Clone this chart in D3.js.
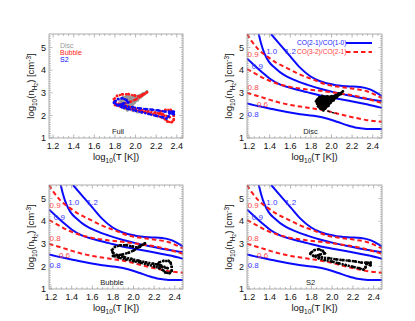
<!DOCTYPE html>
<html><head><meta charset="utf-8">
<script src="https://cdn.jsdelivr.net/npm/d3@7"></script>
<style>body{margin:0;background:#fff}svg{display:block}text{font-family:"Liberation Sans",Arial,Helvetica,sans-serif}</style>
</head><body><svg id="c" width="415" height="321"></svg>
<script>
// ---------- data ----------
const xTicks = [1.2, 1.4, 1.6, 1.8, 2.0, 2.2, 2.4];
const yTicks = [1, 2, 3, 4, 5];
const panelNames = ["Full", "Disc", "Bubble", "S2"];
const legendFull = ["Disc", "Bubble", "S2"];
const legendRatio = ["CO(2-1)/CO(1-0)", "CO(3-2)/CO(2-1)"];

// CO(2-1)/CO(1-0) contours (solid blue): [log T, log n]
const blue12 = [[1.413,5.6],[1.503,5.12],[1.60,4.61],[1.697,4.10],[1.794,3.73],[1.89,3.51],[2.019,3.36],[2.148,3.29],[2.277,3.26],[2.374,3.15],[2.439,3.0],[2.49,2.85]];
const blue10 = [[1.294,5.6],[1.316,5.19],[1.348,4.75],[1.39,4.39],[1.455,4.09],[1.535,3.80],[1.632,3.58],[1.761,3.36],[1.89,3.18],[2.019,3.03],[2.148,2.90],[2.277,2.78],[2.49,2.62]];
const blue09 = [[1.18,4.52],[1.245,4.24],[1.326,3.91],[1.406,3.61],[1.503,3.36],[1.632,3.18],[1.761,3.03],[1.89,2.88],[2.019,2.77],[2.181,2.64],[2.342,2.49],[2.49,2.33]];
const blue08 = [[1.18,2.53],[1.31,2.39],[1.439,2.27],[1.568,2.15],[1.697,2.05],[1.826,1.98],[1.955,1.86],[2.052,1.72],[2.148,1.57],[2.245,1.45],[2.342,1.40],[2.49,1.40]];
// CO(3-2)/CO(2-1) contours (dashed red)
const red09 = [[1.18,5.6],[1.229,5.26],[1.294,4.90],[1.374,4.61],[1.471,4.31],[1.568,4.09],[1.697,3.80],[1.826,3.58],[1.955,3.36],[2.084,3.26],[2.213,3.18],[2.342,3.07],[2.49,2.76]];
const red08 = [[1.18,4.05],[1.261,3.85],[1.358,3.61],[1.471,3.41],[1.60,3.26],[1.761,3.15],[1.923,3.07],[2.084,2.97],[2.245,2.85],[2.49,2.54]];
const red06 = [[1.18,3.0],[1.31,2.82],[1.439,2.64],[1.568,2.49],[1.697,2.39],[1.826,2.30],[1.955,2.20],[2.084,2.05],[2.213,1.91],[2.342,1.79],[2.49,1.72]];

const blueLevels = ["0.8", "0.9", "1.0", "1.2"];
const redLevels = ["0.6", "0.8", "0.9"];
// contour label anchors [log T, log n]
const blueLabelPos = [[1.24,2.08],[1.28,4.20],[1.42,4.86],[1.60,4.86]];
const redLabelPos = [[1.33,2.50],[1.24,3.26],[1.24,4.72]];

// gas phases
const disc = [[1.86,2.70],[1.88,2.80],[1.91,2.86],[1.96,2.84],[2.00,2.85],[2.04,2.90],[2.07,2.97],[2.11,3.06],[2.09,2.94],[2.05,2.80],[2.02,2.66],[1.99,2.55],[1.97,2.42],[1.94,2.30],[1.92,2.22],[1.89,2.30],[1.87,2.40],[1.86,2.52],[1.85,2.62]];
const discTail = [[1.96,2.20],[2.00,2.14],[2.05,2.08]];
const bubble = [[1.80,2.60],[1.79,2.72],[1.82,2.86],[1.87,2.93],[1.93,2.94],[1.99,2.88],[2.03,2.84],[2.07,2.92],[2.11,3.02],[2.06,2.86],[2.00,2.70],[1.95,2.60],[1.89,2.52],[1.84,2.50],[1.80,2.46],[1.86,2.38],[1.93,2.30],[2.00,2.23],[2.07,2.16],[2.14,2.08],[2.20,2.00],[2.25,1.92],[2.29,1.82],[2.31,1.72],[2.35,1.70],[2.37,1.80],[2.37,1.98],[2.36,2.16],[2.34,2.24],[2.29,2.24],[2.25,2.18],[2.23,2.08],[2.27,1.98],[2.33,1.92],[2.26,2.06],[2.19,2.12],[2.12,2.18],[2.05,2.25],[1.98,2.33],[1.91,2.41],[1.85,2.47]];
const s2 = [[1.80,2.62],[1.83,2.72],[1.87,2.76],[1.91,2.68],[1.93,2.58],[1.88,2.52],[1.84,2.46],[1.90,2.40],[1.97,2.36],[2.04,2.31],[2.10,2.28],[2.16,2.25],[2.22,2.22],[2.28,2.17],[2.33,2.16],[2.37,2.17],[2.37,2.05],[2.33,2.10],[2.32,1.95],[2.30,1.86],[2.26,1.92],[2.20,1.98],[2.13,2.06],[2.06,2.14],[2.00,2.21],[1.93,2.28],[1.87,2.36],[1.82,2.46],[1.79,2.56]];

// ---------- drawing ----------
const svg = d3.select("#c");
const BLUE = "#0a0aff", RED = "#ff1a1a", GRAY = "#999999";
const panels = [
  {x0:49, x1:183, y0:34, y1:138, xd:[1.16,2.46]},
  {x0:247, x1:382, y0:34, y1:138, xd:[1.18,2.49]},
  {x0:49, x1:183, y0:185, y1:289, xd:[1.18,2.48]},
  {x0:247, x1:382, y0:185, y1:289, xd:[1.18,2.48]}
];
const yDom = [1, 5.6];

panels.forEach((p, i) => {
  const x = d3.scaleLinear().domain(p.xd).range([p.x0, p.x1]);
  const y = d3.scaleLinear().domain(yDom).range([p.y1, p.y0]);
  const g = svg.append("g");
  const clipId = "clip" + i;
  g.append("clipPath").attr("id", clipId).append("rect")
    .attr("x", p.x0).attr("y", p.y0).attr("width", p.x1 - p.x0).attr("height", p.y1 - p.y0);
  const plot = g.append("g").attr("clip-path", `url(#${clipId})`);
  const line = d3.line().x(d => x(d[0])).y(d => y(d[1]));
  const smooth = d3.line().x(d => x(d[0])).y(d => y(d[1])).curve(d3.curveMonotoneX);

  // frame + ticks
  const axCol = "#9a9a9a";
  g.append("rect").attr("x", p.x0).attr("y", p.y0).attr("width", p.x1 - p.x0).attr("height", p.y1 - p.y0)
    .attr("fill", "none").attr("stroke", axCol).attr("stroke-width", 0.8);
  const minorX = d3.range(Math.ceil(p.xd[0] * 20), Math.floor(p.xd[1] * 20) + 1).map(v => v / 20);
  const minorY = d3.range(10, 56).map(v => v / 10);
  const tg = g.append("g").attr("stroke", axCol).attr("stroke-width", 0.7);
  minorX.forEach(v => {
    const isMaj = xTicks.some(t => Math.abs(t - v) < 1e-6);
    const L = isMaj ? 3.5 : 1.8;
    tg.append("line").attr("x1", x(v)).attr("x2", x(v)).attr("y1", p.y1).attr("y2", p.y1 - L);
    tg.append("line").attr("x1", x(v)).attr("x2", x(v)).attr("y1", p.y0).attr("y2", p.y0 + L);
  });
  minorY.forEach(v => {
    const isMaj = yTicks.some(t => Math.abs(t - v) < 1e-6);
    const L = isMaj ? 3.5 : 1.8;
    tg.append("line").attr("y1", y(v)).attr("y2", y(v)).attr("x1", p.x0).attr("x2", p.x0 + L);
    tg.append("line").attr("y1", y(v)).attr("y2", y(v)).attr("x1", p.x1).attr("x2", p.x1 - L);
  });
  xTicks.forEach(t => {
    g.append("text").attr("x", x(t)).attr("y", p.y1 + 11).attr("text-anchor", "middle")
      .attr("font-size", 9).attr("fill", "#111").text(t.toFixed(1));
  });
  yTicks.forEach(t => {
    g.append("text").attr("x", p.x0 - 3).attr("y", y(t) + 3.2).attr("text-anchor", "end")
      .attr("font-size", 9).attr("fill", "#111").text(t);
  });

  // axis titles
  const xt = g.append("text").attr("x", (p.x0 + p.x1) / 2).attr("y", p.y1 + 22)
    .attr("text-anchor", "middle").attr("font-size", 9.5).attr("fill", "#111");
  xt.append("tspan").text("log");
  xt.append("tspan").attr("font-size", 6.5).attr("dy", 2.5).text("10");
  xt.append("tspan").attr("dy", -2.5).text("(T [K])");

  const yt = g.append("text").attr("transform", `translate(${p.x0 - 15},${(p.y0 + p.y1) / 2}) rotate(-90)`)
    .attr("text-anchor", "middle").attr("font-size", 9.5).attr("fill", "#111");
  yt.append("tspan").text("log");
  yt.append("tspan").attr("font-size", 6.5).attr("dy", 2.5).text("10");
  yt.append("tspan").attr("dy", -2.5).text("(n");
  yt.append("tspan").attr("font-size", 6.5).attr("dy", 2.5).text("H");
  yt.append("tspan").attr("font-size", 5).attr("dy", 1.5).text("2");
  yt.append("tspan").attr("dy", -4).text(") [cm");
  yt.append("tspan").attr("font-size", 6.5).attr("dy", -3.5).text("-3");
  yt.append("tspan").attr("dy", 3.5).text("]");

  // panel name
  g.append("text").attr("x", (p.x0 + p.x1) / 2 + (i === 0 ? 2 : -4)).attr("y", p.y1 - 4)
    .attr("text-anchor", "middle").attr("font-size", 7.5).attr("fill", "#222").text(panelNames[i]);

  function drawCloud(data, col, filled, w) {
    if (filled) {
      plot.append("path").attr("d", line(data) + "Z").attr("fill", col).attr("stroke", col)
        .attr("stroke-width", 1.6).attr("stroke-linejoin", "round");
    } else {
      plot.append("path").attr("d", line(data) + "Z").attr("fill", "none").attr("stroke", col)
        .attr("stroke-width", w).attr("stroke-linejoin", "round").attr("stroke-dasharray", "2.2,0.9");
    }
    plot.selectAll(null).data(data).enter().append("circle")
      .attr("cx", d => x(d[0])).attr("cy", d => y(d[1])).attr("r", 1.4).attr("fill", col);
  }
  function drawTail(col) {
    plot.append("path").attr("d", line(discTail)).attr("fill", "none").attr("stroke", col)
      .attr("stroke-width", 1.3).attr("stroke-dasharray", "3,1.5");
  }

  if (i === 0) {
    drawCloud(disc, GRAY, true);
    drawTail(GRAY);
    drawCloud(bubble, RED, false, 2.2);
    drawCloud(s2, BLUE, false, 2.2);
    const lg = [GRAY, RED, BLUE];
    legendFull.forEach((t, k) => {
      g.append("text").attr("x", p.x0 + 11).attr("y", p.y0 + 13.5 + k * 7.4).attr("font-size", 7)
        .attr("fill", lg[k]).text(t);
    });
  } else {
    // contours
    [blue08, blue09, blue10, blue12].forEach(c => {
      plot.append("path").attr("d", smooth(c)).attr("fill", "none")
        .attr("stroke", BLUE).attr("stroke-width", 2);
    });
    [red06, red08, red09].forEach(c => {
      plot.append("path").attr("d", smooth(c)).attr("fill", "none")
        .attr("stroke", RED).attr("stroke-width", 2).attr("stroke-dasharray", "4.5,3");
    });
    blueLevels.forEach((t, k) => {
      g.append("text").attr("x", x(blueLabelPos[k][0])).attr("y", y(blueLabelPos[k][1]) + 3)
        .attr("text-anchor", "middle").attr("font-size", 8).attr("fill", "#3a3aff").text(t);
    });
    redLevels.forEach((t, k) => {
      g.append("text").attr("x", x(redLabelPos[k][0])).attr("y", y(redLabelPos[k][1]) + 3)
        .attr("text-anchor", "middle").attr("font-size", 8).attr("fill", "#ff4a4a").text(t);
    });
    if (i === 1) {
      drawCloud(disc, "#000", true);
      drawTail("#000");
      // legend
      const lc = [BLUE, RED];
      legendRatio.forEach((t, k) => {
        const yy = p.y0 + 9 + k * 9;
        g.append("text").attr("x", p.x0 + 50).attr("y", yy + 2.4).attr("font-size", 6.6)
          .attr("fill", k === 0 ? "#2020ff" : "#ff3a3a").text(t);
        g.append("line").attr("x1", p.x0 + 99).attr("x2", p.x0 + 125).attr("y1", yy).attr("y2", yy)
          .attr("stroke", lc[k]).attr("stroke-width", 2).attr("stroke-dasharray", k === 1 ? "4.5,3" : null);
      });
    } else if (i === 2) {
      drawCloud(bubble, "#000", false, 2.4);
    } else {
      drawCloud(s2, "#000", false, 2.4);
    }
  }
});
</script></body></html>
